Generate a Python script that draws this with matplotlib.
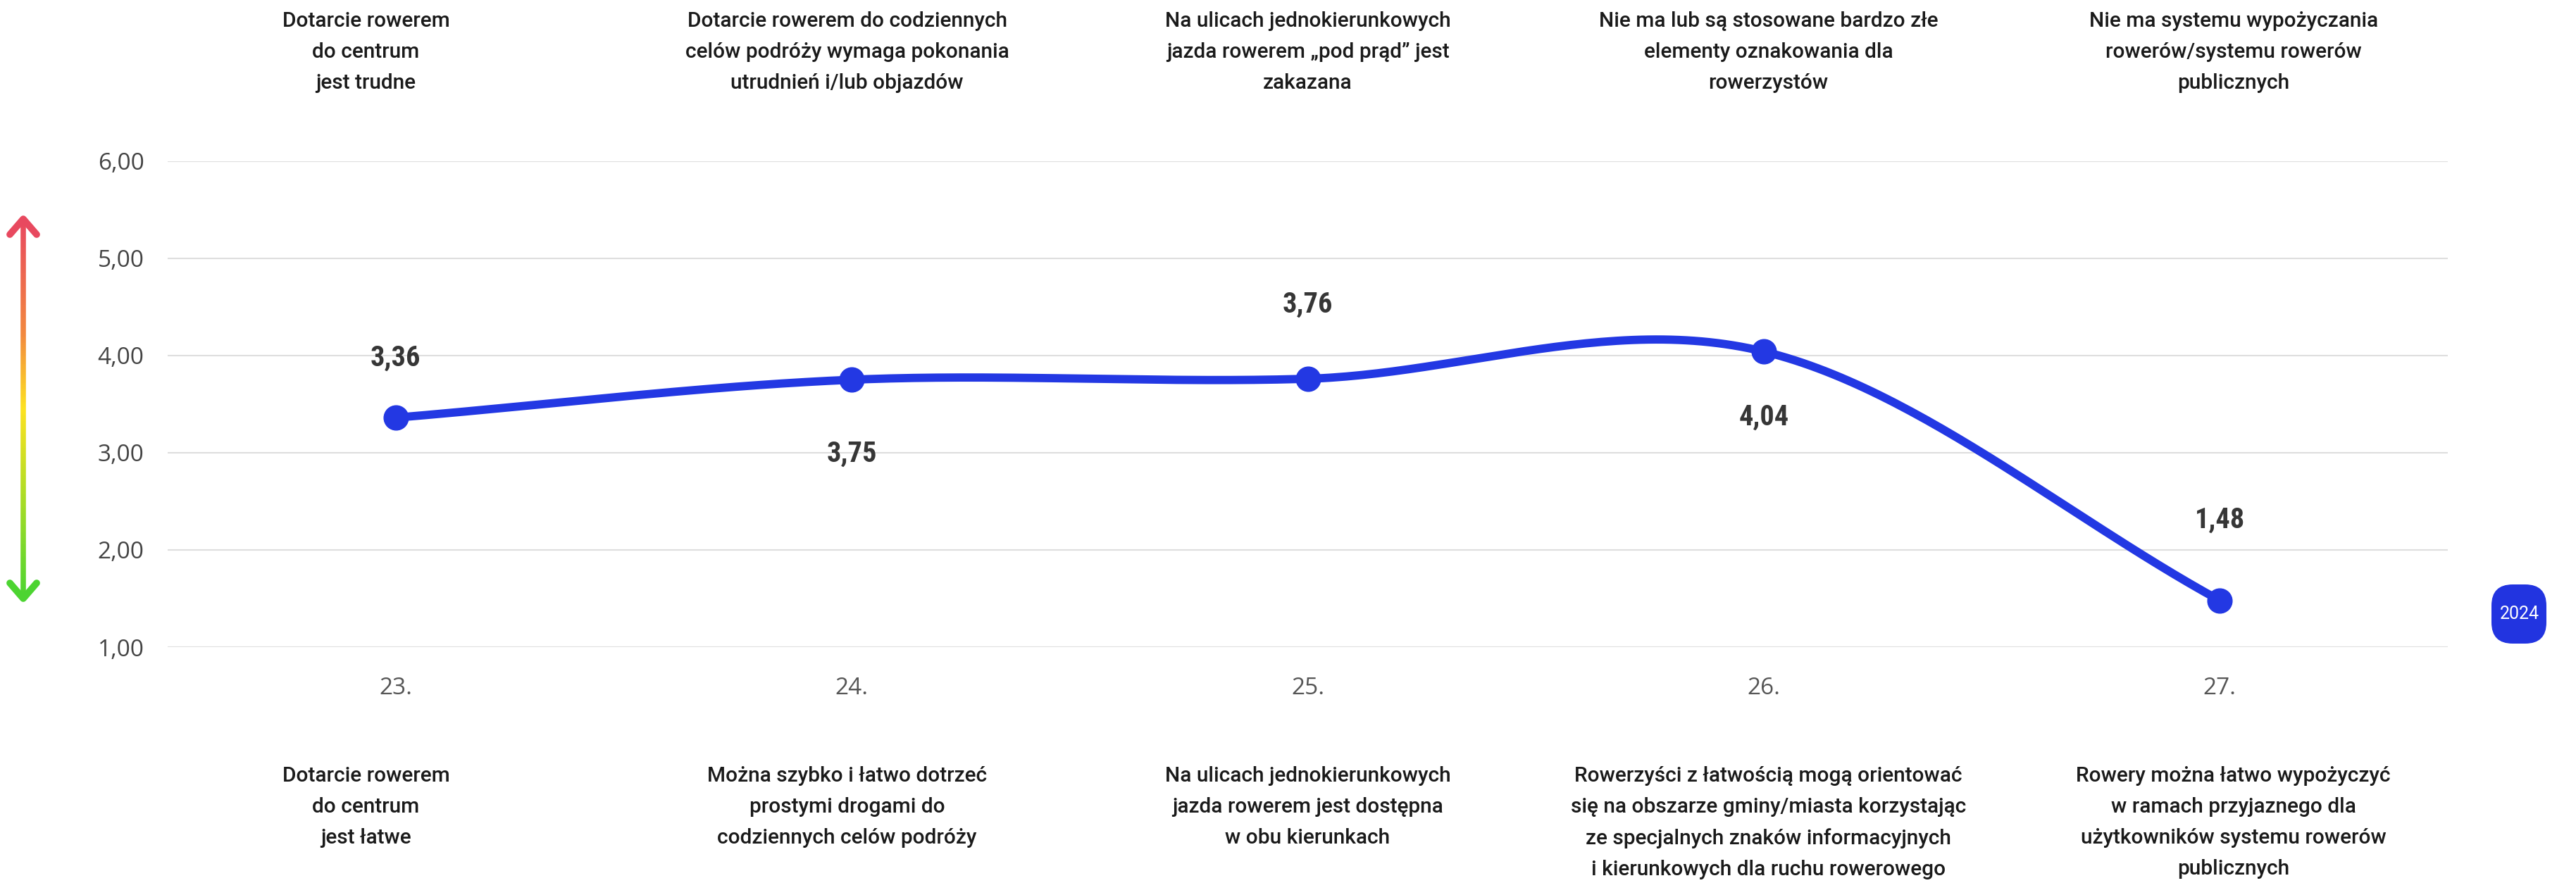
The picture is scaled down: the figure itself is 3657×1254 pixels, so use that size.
import numpy as np
import matplotlib
matplotlib.use("Agg")
import matplotlib.pyplot as plt
from matplotlib.collections import LineCollection
from matplotlib.patches import FancyBboxPatch
from matplotlib.colors import LinearSegmentedColormap

# data
categories = ["23.", "24.", "25.", "26.", "27."]
scores = [3.36, 3.75, 3.76, 4.04, 1.48]
score_labels = ["3,36", "3,75", "3,76", "4,04", "1,48"]
top_texts = [
    "Dotarcie rowerem\ndo centrum\njest trudne",
    "Dotarcie rowerem do codziennych\ncelów podróży wymaga pokonania\nutrudnień i/lub objazdów",
    "Na ulicach jednokierunkowych\njazda rowerem \u201epod prąd\u201d jest\nzakazana",
    "Nie ma lub są stosowane bardzo złe\nelementy oznakowania dla\nrowerzystów",
    "Nie ma systemu wypożyczania\nrowerów/systemu rowerów\npublicznych",
]
bottom_texts = [
    "Dotarcie rowerem\ndo centrum\njest łatwe",
    "Można szybko i łatwo dotrzeć\nprostymi drogami do\ncodziennych celów podróży",
    "Na ulicach jednokierunkowych\njazda rowerem jest dostępna\nw obu kierunkach",
    "Rowerzyści z łatwością mogą orientować\nsię na obszarze gminy/miasta korzystając\nze specjalnych znaków informacyjnych\ni kierunkowych dla ruchu rowerowego",
    "Rowery można łatwo wypożyczyć\nw ramach przyjaznego dla\nużytkowników systemu rowerów\npublicznych",
]
yticks = [1, 2, 3, 4, 5, 6]
ytick_labels = ["1,00", "2,00", "3,00", "4,00", "5,00", "6,00"]
year = "2024"

# style
W, H = 3657, 1254
blue = "#2338e3"
label_dy = [84, -105, 105, -93, 114]   # px offset of value labels
text_dx = [-0.065, -0.01, 0.0, 0.01, 0.03]  # category text shift

plt.rcParams["font.family"] = ["Roboto", "DejaVu Sans"]

fig = plt.figure(figsize=(W / 100, H / 100), dpi=100)
ax = fig.add_axes([238 / W, 1 - 919 / H, (3475 - 238) / W, (919 - 228.6) / H])

x = np.arange(len(scores))
y = np.array(scores)

# smooth curve (cubic hermite, catmull-rom tangents)
m = np.zeros_like(y)
m[1:-1] = (y[2:] - y[:-2]) / 2
m[0] = y[1] - y[0]
m[-1] = y[-1] - y[-2]
xs, ys = [], []
for i in range(len(y) - 1):
    t = np.linspace(0, 1, 60)
    h00 = 2 * t**3 - 3 * t**2 + 1
    h10 = t**3 - 2 * t**2 + t
    h01 = -2 * t**3 + 3 * t**2
    h11 = t**3 - t**2
    xs.append(x[i] + t)
    ys.append(h00 * y[i] + h10 * m[i] + h01 * y[i + 1] + h11 * m[i + 1])
ax.plot(np.concatenate(xs), np.concatenate(ys), color=blue, lw=8.5,
        solid_capstyle="round", zorder=3, clip_on=False)
ax.plot(x, y, "o", color=blue, ms=25, zorder=4, clip_on=False)

for xi, yi, lab, dy in zip(x, y, score_labels, label_dy):
    ax.annotate(lab, (xi, yi), xytext=(0, dy), textcoords="offset pixels",
                ha="center", va="center", fontsize=29, fontweight="bold",
                color="#363636", family=["Roboto Condensed", "Roboto", "DejaVu Sans"])

ax.set_xlim(-0.5, len(scores) - 0.5)
ax.set_ylim(1, 6)
ax.set_yticks(yticks)
ax.set_yticklabels(ytick_labels, family=["Open Sans", "DejaVu Sans"], fontsize=24, color="#444444")
ax.set_xticks(x)
ax.set_xticklabels(categories, family=["Open Sans", "DejaVu Sans"], fontsize=24, color="#555555")
ax.tick_params(axis="y", length=0, pad=24)
ax.tick_params(axis="x", length=0, pad=30)
ax.grid(axis="y", color="#dedede", lw=1.5)
ax.set_axisbelow(True)
for s in ax.spines.values():
    s.set_visible(False)

# overlay in pixel coords for decorations
ov = fig.add_axes([0, 0, 1, 1], zorder=-1)
ov.set_xlim(0, W)
ov.set_ylim(H, 0)
ov.axis("off")

for xi, dx, tt, bt in zip(x, text_dx, top_texts, bottom_texts):
    px = ax.transData.transform((xi + dx, 1))[0]
    ov.text(px, 16, tt, ha="center", va="top", fontsize=21.5, color="#1a1a1a",
            linespacing=1.72, fontweight="medium")
    ov.text(px, 1088, bt, ha="center", va="top", fontsize=21.5, color="#1a1a1a",
            linespacing=1.72, fontweight="medium")

# gradient double arrow
cmap = LinearSegmentedColormap.from_list(
    "g", [(0, "#e8495f"), (0.3, "#f2883f"), (0.5, "#fde220"), (0.75, "#a6dc26"), (1, "#4cd431")])
ya = np.linspace(312, 849, 200)
segs = [[(33, ya[i]), (33, ya[i + 1])] for i in range(len(ya) - 1)]
lc = LineCollection(segs, colors=cmap(np.linspace(0, 1, len(segs))), linewidths=5.5)
ov.add_collection(lc)
ov.plot([14, 33, 52], [333, 311, 333], color="#e8495f", lw=7, solid_capstyle="round",
        solid_joinstyle="round")
ov.plot([14, 33, 52], [828, 850, 828], color="#4cd431", lw=7, solid_capstyle="round",
        solid_joinstyle="round")

# year badge
ov.add_patch(FancyBboxPatch((3537, 830), 78, 84, boxstyle="round,pad=0,rounding_size=30",
                            fc="#2234e0", ec="none"))
ov.text(3577, 872, year, ha="center", va="center", fontsize=18, color="white")

fig.savefig("out.png", dpi=100)
